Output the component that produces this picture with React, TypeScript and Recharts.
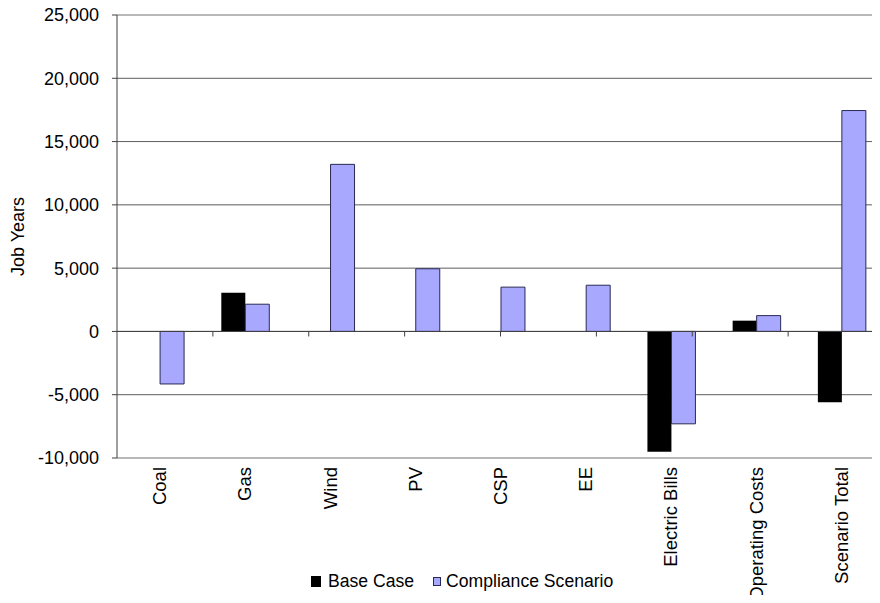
import {
  BarChart,
  Bar,
  XAxis,
  YAxis,
  CartesianGrid,
  Legend,
  ReferenceLine,
} from "recharts";

const categories = [
  "Coal",
  "Gas",
  "Wind",
  "PV",
  "CSP",
  "EE",
  "Electric Bills",
  "Operating Costs",
  "Scenario Total",
];
const baseCase = [0, 3050, 0, 0, 0, 0, -9500, 850, -5600];
const complianceScenario = [-4150, 2150, 13200, 4950, 3500, 3650, -7300, 1250, 17450];
const yTicks = [-10000, -5000, 0, 5000, 10000, 15000, 20000, 25000];

const data = categories.map((name, i) => ({
  name,
  base: baseCase[i],
  compliance: complianceScenario[i],
}));

// category boundaries get small tick marks hanging below the zero line
const boundaries = categories.map((_, i) => i + 1);
const tickDepth = 400;

const FONT = '"Liberation Sans", Arial, sans-serif';
const BLUE = "#a8a8ff";
const BLUE_EDGE = "#2a2a55";

const CategoryTick = ({ x, y, payload }: any) => (
  <text
    transform={`translate(${x},${y + 9}) rotate(-90)`}
    textAnchor="end"
    dominantBaseline="central"
    fontFamily={FONT}
    fontSize={18.5}
    fill="#000"
  >
    {payload.value}
  </text>
);

const AxisTitle = ({ viewBox }: any) => {
  const cx = viewBox.x + 9.5;
  const cy = viewBox.y + viewBox.height / 2;
  return (
    <text
      x={cx}
      y={cy}
      transform={`rotate(-90, ${cx}, ${cy})`}
      textAnchor="middle"
      dominantBaseline="central"
      fontFamily={FONT}
      fontSize={18}
      fill="#000"
    >
      Job Years
    </text>
  );
};

const LegendContent = ({ payload }: any) => (
  <div
    style={{
      display: "flex",
      alignItems: "center",
      fontFamily: FONT,
      fontSize: 17.6,
      lineHeight: "20px",
      color: "#000",
      whiteSpace: "nowrap",
    }}
  >
    {(payload || []).map((item: any) => {
      const blue = item.dataKey === "compliance";
      return (
        <span
          key={item.value}
          style={{ display: "flex", alignItems: "center", marginRight: 19 }}
        >
          <span
            style={{
              display: "inline-block",
              boxSizing: "border-box",
              width: blue ? 8 : 10,
              height: blue ? 9 : 11,
              background: blue ? BLUE : "#000",
              border: blue ? `1px solid ${BLUE_EDGE}` : "none",
              marginRight: blue ? 5 : 7,
            }}
          />
          {item.value}
        </span>
      );
    })}
  </div>
);

export default function App() {
  return (
    <div
      style={{
        width: 872,
        height: 603,
        overflow: "hidden",
        marginTop: -8,
        marginBottom: -8,
      }}
    >
      <BarChart
        width={880}
        height={603}
        data={data}
        margin={{ top: 15, right: 4, bottom: 0, left: 0 }}
        barCategoryGap="22.4%"
        barGap={0}
      >
        <CartesianGrid horizontal vertical={false} stroke="#5c5c5c" />
        <XAxis
          xAxisId="cat"
          dataKey="name"
          height={145}
          axisLine={false}
          tickLine={false}
          tickSize={0}
          tickMargin={0}
          interval={0}
          tick={<CategoryTick />}
        />
        <XAxis xAxisId="edge" type="number" domain={[0, 9]} hide />
        <YAxis
          width={109}
          domain={[-10000, 25000]}
          ticks={yTicks}
          interval={0}
          tickFormatter={(v: number) => v.toLocaleString("en-US")}
          tick={{ fontFamily: FONT, fontSize: 18, fill: "#000" }}
          tickSize={5}
          tickMargin={13}
          axisLine={{ stroke: "#404040" }}
          tickLine={{ stroke: "#404040" }}
          label={<AxisTitle />}
        />
        <ReferenceLine xAxisId="cat" y={25000} stroke="#c4c4c4" />
        <ReferenceLine xAxisId="cat" y={-10000} stroke="#c4c4c4" />
        <Bar
          xAxisId="cat"
          dataKey="base"
          name="Base Case"
          fill="#000"
          isAnimationActive={false}
        />
        <Bar
          xAxisId="cat"
          dataKey="compliance"
          name="Compliance Scenario"
          fill={BLUE}
          stroke={BLUE_EDGE}
          strokeWidth={1}
          isAnimationActive={false}
        />
        <ReferenceLine xAxisId="cat" y={0} stroke="#404040" />
        {boundaries.map((b) => (
          <ReferenceLine
            key={b}
            xAxisId="edge"
            segment={[
              { x: b, y: 0 },
              { x: b, y: -tickDepth },
            ]}
            stroke="#404040"
          />
        ))}
        <Legend
          layout="horizontal"
          verticalAlign="middle"
          wrapperStyle={{ top: 571, left: 303, width: "auto" }}
          content={<LegendContent />}
        />
      </BarChart>
    </div>
  );
}
